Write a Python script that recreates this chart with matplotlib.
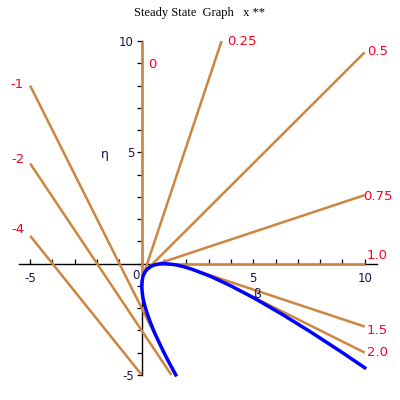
import matplotlib
matplotlib.use("Agg")
import matplotlib.pyplot as plt
from matplotlib.ticker import MultipleLocator, FixedLocator

plt.rcParams["axes.unicode_minus"] = False

# steady state lines, one per x** value: start point (on the curve) and end point
line_names = ["0", "0.25", "0.5", "0.75", "1.0", "1.5", "2.0", "-1", "-2", "-4"]
line_b0 = [0.0, 0.06, 0.25, 0.56, 1.0, 2.25, 4.0, -5.0, -5.0, -5.0]
line_e0 = [-1.0, -0.56, -0.25, -0.06, 0.0, -0.25, -1.0, 8.0, 4.5, 1.25]
line_b1 = [0.0, 3.58, 10.0, 10.0, 10.0, 10.0, 10.0, 1.5, 1.33, 0.0]
line_e1 = [10.0, 10.0, 9.5, 3.08, 0.0, -2.83, -4.0, -5.0, -5.0, -5.0]

# label positions for the lines
label_b = [0.31, 3.82, 10.1, 9.92, 10.06, 10.1, 10.1, -5.88, -5.84, -5.84]
label_e = [8.94, 10.0, 9.52, 3.0, 0.36, -3.0, -4.0, 8.04, 4.67, 1.53]

# blue curve
curve_b = [1.53, 1.21, 1.0, 0.77, 0.56, 0.39, 0.25, 0.14, 0.06, 0.02, 0.0,
           0.02, 0.06, 0.14, 0.25, 0.39, 0.56, 0.77, 1.0, 1.27, 1.56, 1.89,
           2.25, 3.06, 4.0, 5.06, 6.25, 7.56, 9.0, 10.0]
curve_e = [-5.0, -4.41, -4.0, -3.52, -3.06, -2.64, -2.25, -1.89, -1.56, -1.27, -1.0,
           -0.77, -0.56, -0.39, -0.25, -0.14, -0.06, -0.02, 0.0, -0.02, -0.06, -0.14,
           -0.25, -0.56, -1.0, -1.56, -2.25, -3.06, -4.0, -4.68]

orange = "#CD853F"
red = "#FF0022"
navy = "#141450"

fig = plt.figure(figsize=(4, 4), dpi=100)
ax = fig.add_axes([0.0475, 0.035, 0.895, 0.89])

for i in range(len(line_names)):
    ax.plot([line_b0[i], line_b1[i]], [line_e0[i], line_e1[i]],
            color=orange, lw=1.8, solid_capstyle="butt", zorder=3)
    ax.text(label_b[i], label_e[i], line_names[i], color=red,
            fontsize=9.5, ha="left", va="center", zorder=5)

ax.plot(curve_b, curve_e, color="#0000FF", lw=2.5, zorder=4)

ax.set_xlim(-5.5, 10.55)
ax.set_ylim(-5.5, 10.5)

for s in ["top", "right"]:
    ax.spines[s].set_visible(False)
ax.spines["left"].set_position(("data", 0))
ax.spines["bottom"].set_position(("data", 0))
ax.spines["left"].set_bounds(-5, 10)
ax.spines["left"].set_linewidth(1.0)
ax.spines["bottom"].set_linewidth(1.0)

ax.xaxis.set_major_locator(FixedLocator([-5, 5, 10]))
ax.yaxis.set_major_locator(FixedLocator([-5, 5, 10]))
ax.xaxis.set_minor_locator(MultipleLocator(1))
ax.yaxis.set_minor_locator(MultipleLocator(1))
ax.tick_params(axis="x", which="both", direction="in", length=3.5, width=0.9,
               labelsize=8.5, labelcolor=navy, pad=6)
ax.tick_params(axis="y", which="both", direction="out", length=3.5, width=0.9,
               labelsize=8.5, labelcolor=navy, pad=2)

ax.text(-0.25, -0.52, "0", fontsize=8.5, color=navy, ha="center", va="center")
ax.text(-1.66, 4.9, "η", fontsize=9, color=navy, ha="center", va="center")
ax.text(5.2, -1.4, "β", fontsize=9, color=navy, ha="center", va="center")

fig.text(0.5, 0.967, "Steady State  Graph   x **", fontsize=9,
         family="Liberation Serif", ha="center", va="center")

fig.savefig("out.png", dpi=100)
